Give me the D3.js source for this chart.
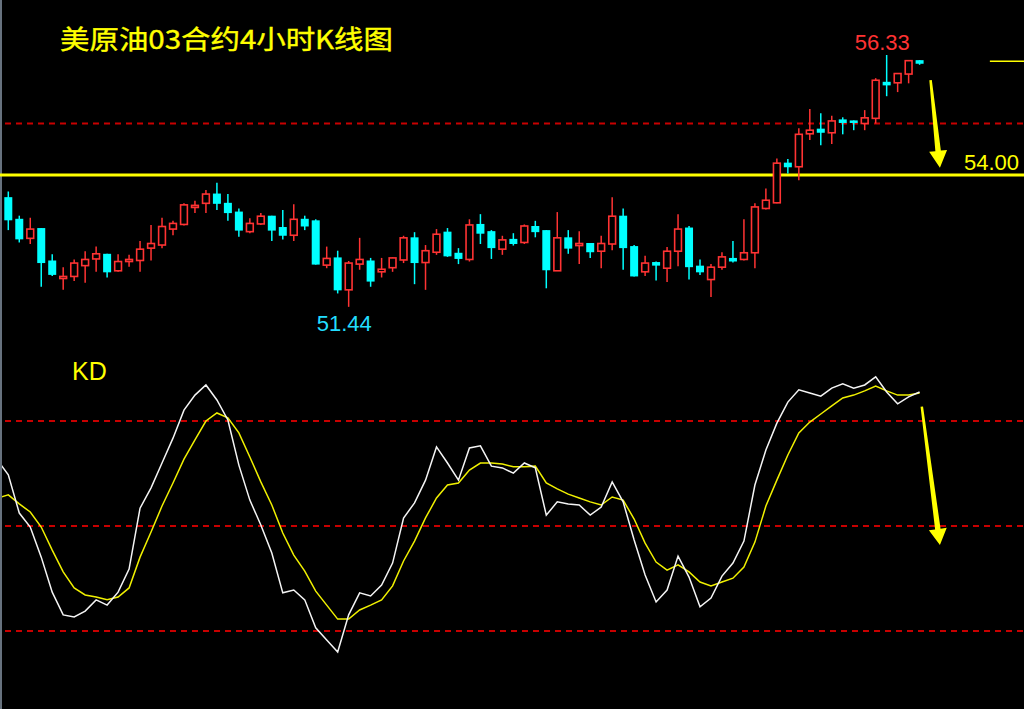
<!DOCTYPE html>
<html><head><meta charset="utf-8">
<script src="https://cdn.jsdelivr.net/npm/d3@7"></script>
<style>html,body{margin:0;padding:0;background:#000;overflow:hidden}</style>
</head><body><svg id="c" width="1024" height="709"></svg>
<script>
// ---- data ----
const title = "美原油03合约4小时K线图";
const openP = [53.56,53.14,52.77,52.96,52.33,51.99,52.03,52.24,52.37,52.46,
52.14,52.32,52.34,52.58,52.64,52.95,53.04,53.37,53.45,53.63,
53.45,53.28,52.90,53.05,53.20,52.98,52.83,53.14,53.11,52.25,
52.39,51.77,52.27,52.33,52.12,52.20,52.35,52.78,52.30,52.50,
52.89,52.48,52.36,53.04,52.90,52.56,52.75,52.69,53.00,52.92,
52.14,52.78,52.63,52.67,52.52,52.66,53.20,52.61,52.12,52.30,
52.19,52.52,52.97,52.23,51.97,52.21,52.38,52.36,52.49,53.35,
53.46,54.23,54.16,54.80,54.89,54.82,55.07,55.05,55.00,55.10,
55.80,55.79,55.96,56.22];
const highP = [53.68,53.21,53.17,52.97,52.46,52.21,52.36,52.52,52.61,52.47,
52.46,52.45,52.72,53.03,53.17,53.11,53.45,53.50,53.71,53.85,
53.63,53.35,53.16,53.26,53.21,53.32,53.43,53.21,53.14,52.61,
52.53,52.33,52.78,52.39,52.39,52.40,52.82,52.89,52.64,52.95,
52.97,52.58,53.14,53.24,52.93,52.82,52.87,53.04,53.11,52.93,
53.28,52.93,52.91,52.68,52.82,53.57,53.35,52.64,52.43,52.32,
52.60,53.24,53.01,52.36,52.27,52.50,52.72,53.14,53.45,53.74,
54.32,54.31,54.91,55.28,55.20,55.15,55.12,55.06,55.26,55.88,
56.33,55.98,56.23,56.23];
const lowP = [52.93,52.69,52.66,51.83,52.04,51.77,51.94,51.91,52.12,52.01,
52.12,52.22,52.12,52.34,52.58,52.83,53.02,53.26,53.26,53.32,
53.11,52.80,52.87,53.03,52.72,52.75,52.72,52.93,52.26,52.19,
51.70,51.44,52.16,51.83,52.01,52.12,52.29,51.88,51.77,52.45,
52.41,52.27,52.32,52.66,52.37,52.45,52.63,52.66,52.79,51.80,
52.14,52.47,52.27,52.39,52.19,52.54,52.16,52.03,52.04,51.95,
51.92,52.23,51.97,52.06,51.63,52.16,52.30,52.34,52.19,53.33,
53.45,54.03,53.90,54.68,54.58,54.60,54.79,54.87,54.87,55.00,
55.53,55.61,55.78,56.14];
const closeP = [53.13,52.76,52.95,52.30,52.07,52.03,52.29,52.36,52.47,52.12,
52.32,52.36,52.56,52.67,53.00,53.06,53.42,53.41,53.63,53.45,
53.27,52.93,53.06,53.20,52.93,52.83,53.14,53.01,52.27,52.38,
51.77,52.29,52.36,51.94,52.17,52.39,52.78,52.30,52.53,52.85,
52.43,52.38,53.03,52.87,52.59,52.74,52.67,53.01,52.90,52.16,
52.78,52.58,52.67,52.51,52.67,53.20,52.59,52.04,52.29,52.25,
52.52,52.95,52.22,52.12,52.21,52.41,52.33,52.49,53.38,53.51,
54.23,54.16,54.79,54.87,54.83,55.05,55.02,55.02,55.11,55.84,
55.75,55.97,56.22,56.17];
// KD values: first entry belongs to the bar just before the first visible candle
const kLine = [68.9,
64.6,53.7,49.7,41.1,31.1,24.6,24.0,25.7,28.9,27.4,
31.1,37.7,55.1,60.9,68.0,75.1,83.1,87.4,90.3,86.0,
80.3,67.4,57.4,50.3,42.3,30.9,31.7,28.9,20.9,17.4,
14.0,24.6,30.9,30.0,33.1,39.4,52.3,56.6,63.1,72.6,
68.0,63.1,72.3,72.9,67.1,66.6,65.1,68.0,66.6,53.1,
56.9,56.3,56.0,53.1,55.4,62.6,56.9,46.0,36.0,28.3,
31.7,41.4,35.4,26.9,29.4,35.7,39.4,45.7,61.7,71.7,
79.4,85.4,88.9,88.0,87.1,89.4,90.6,89.4,90.3,92.6,
88.3,84.9,86.9,88.3];
const dLine = [58.0,
58.9,56.3,54.0,49.7,43.1,36.9,32.3,30.3,29.7,28.9,
29.7,32.3,41.1,48.3,55.7,62.3,69.1,74.6,80.0,82.3,
80.9,76.6,69.7,62.6,56.0,48.0,41.7,37.1,31.4,27.4,
23.4,23.4,26.0,27.4,28.9,32.9,40.0,45.7,52.3,58.0,
61.7,62.3,66.0,68.0,68.0,67.7,66.9,66.9,67.1,62.3,
60.6,59.1,58.0,56.9,56.0,58.3,57.4,52.0,45.1,39.7,
37.4,38.9,36.9,34.0,32.9,34.0,35.1,38.3,45.4,55.7,
63.1,70.3,76.6,79.7,82.0,84.3,86.6,87.4,88.6,90.0,
88.6,87.4,87.4,88.0];
const priceLevels = [55.00];
const supportLevel = 54.00;
const kdLevels = [80, 50, 20];
const highLabel = {index: 80, value: 56.33};
const lowLabel = {index: 31, value: 51.44};
const markerPrice = 56.21;

// ---- drawing ----
const W = 1024, H = 709;
const svg = d3.select('#c');
svg.append('rect').attr('width', W).attr('height', H).attr('fill', '#000');

const n = closeP.length;
const x = d3.scaleLinear().domain([0, n - 1]).range([8.3, 919.6]);
const y = d3.scaleLinear().domain([51, 57]).range([329.5, 20.5]);
const yk = d3.scaleLinear().domain([0, 100]).range([701, 351]);

const RED = '#ff3333', CYAN = '#00ffff', YEL = '#ffff00', DRED = '#c80000';

svg.append('clipPath').attr('id', 'clip').append('rect')
  .attr('x', 2).attr('y', 0).attr('width', W - 2).attr('height', H);

// left border
svg.append('line').attr('x1', 1).attr('x2', 1).attr('y1', 0).attr('y2', H)
  .attr('stroke', '#8a98a8').attr('stroke-width', 1.5);

// dashed levels
svg.selectAll('line.pl').data(priceLevels).join('line').attr('class', 'pl')
  .attr('x1', 5).attr('x2', W).attr('y1', d => y(d)).attr('y2', d => y(d))
  .attr('stroke', DRED).attr('stroke-width', 2).attr('stroke-dasharray', '6,5');
svg.selectAll('line.kl').data(kdLevels).join('line').attr('class', 'kl')
  .attr('x1', 5).attr('x2', W).attr('y1', d => yk(d)).attr('y2', d => yk(d))
  .attr('stroke', DRED).attr('stroke-width', 2).attr('stroke-dasharray', '6,5');

// support line
svg.append('line').attr('x1', 0).attr('x2', W).attr('y1', y(supportLevel)).attr('y2', y(supportLevel))
  .attr('stroke', YEL).attr('stroke-width', 3);

// candles
const idx = d3.range(n);
const g = svg.append('g');
idx.forEach(i => {
  const up = closeP[i] >= openP[i];
  const col = up ? RED : CYAN;
  g.append('line').attr('x1', x(i)).attr('x2', x(i))
    .attr('y1', y(highP[i])).attr('y2', y(lowP[i]))
    .attr('stroke', col).attr('stroke-width', 1.5);
  const top = y(Math.max(openP[i], closeP[i]));
  const bot = y(Math.min(openP[i], closeP[i]));
  const h = Math.max(bot - top, 1);
  if (up) {
    g.append('rect').attr('x', x(i) - 3.4).attr('width', 6.8)
      .attr('y', top).attr('height', h)
      .attr('fill', '#000').attr('stroke', col).attr('stroke-width', 1.6);
  } else {
    g.append('rect').attr('x', x(i) - 4).attr('width', 8)
      .attr('y', top - 0.5).attr('height', h + 1)
      .attr('fill', col);
  }
});

// KD lines
const lineK = d3.line().x((d, i) => x(i - 1)).y(d => yk(d));
const kd = svg.append('g').attr('clip-path', 'url(#clip)');
kd.append('path').datum(dLine).attr('d', lineK).attr('fill', 'none')
  .attr('stroke', '#f0f000').attr('stroke-width', 1.5);
kd.append('path').datum(kLine).attr('d', lineK).attr('fill', 'none')
  .attr('stroke', '#f4f4f4').attr('stroke-width', 1.5);

// marker line at right
svg.append('line').attr('x1', x(89.4)).attr('x2', W)
  .attr('y1', y(markerPrice)).attr('y2', y(markerPrice))
  .attr('stroke', YEL).attr('stroke-width', 1.5);

// arrows
function arrow(x0, y0, x1, y1, wTop, wShaft, headW, headL) {
  const dx = x1 - x0, dy = y1 - y0, L = Math.hypot(dx, dy);
  const ux = dx / L, uy = dy / L, nx = -uy, ny = ux;
  const bx = x1 - ux * headL, by = y1 - uy * headL;
  const pts = [
    [x0 - nx * wTop / 2, y0 - ny * wTop / 2],
    [bx - nx * wShaft / 2, by - ny * wShaft / 2],
    [bx - nx * headW / 2, by - ny * headW / 2],
    [x1, y1],
    [bx + nx * headW / 2, by + ny * headW / 2],
    [bx + nx * wShaft / 2, by + ny * wShaft / 2],
    [x0 + nx * wTop / 2, y0 + ny * wTop / 2]
  ];
  svg.append('polygon').attr('points', pts.map(p => p.join(',')).join(' '))
    .attr('fill', YEL);
}
arrow(x(84.0), y(55.84), x(84.85), y(54.14), 2.5, 5.5, 18, 17);
arrow(x(83.2), yk(84.1), x(84.85), yk(44.6), 2.5, 5.5, 18, 16);

// texts
svg.append('text').attr('x', 60).attr('y', 49).text(title)
  .attr('fill', YEL).attr('stroke', YEL).attr('stroke-width', 0.4)
  .attr('font-family', '"Noto Sans CJK SC", sans-serif')
  .attr('font-size', 26).attr('textLength', 333).attr('lengthAdjust', 'spacingAndGlyphs');
svg.append('text').attr('x', 72).attr('y', 380).text('KD')
  .attr('fill', YEL).attr('font-family', '"Liberation Sans", Arial, sans-serif')
  .attr('font-size', 25);
svg.append('text').attr('x', x(highLabel.index) - 32).attr('y', y(highLabel.value) - 5)
  .text(highLabel.value.toFixed(2)).attr('fill', RED)
  .attr('font-family', '"Liberation Sans", Arial, sans-serif').attr('font-size', 22);
svg.append('text').attr('x', x(lowLabel.index) - 32).attr('y', y(lowLabel.value) + 24)
  .text(lowLabel.value.toFixed(2)).attr('fill', '#22ddff')
  .attr('font-family', '"Liberation Sans", Arial, sans-serif').attr('font-size', 22);
svg.append('text').attr('x', 964).attr('y', y(supportLevel) - 5)
  .text(supportLevel.toFixed(2)).attr('fill', YEL)
  .attr('font-family', '"Liberation Sans", Arial, sans-serif').attr('font-size', 22);
</script></body></html>
